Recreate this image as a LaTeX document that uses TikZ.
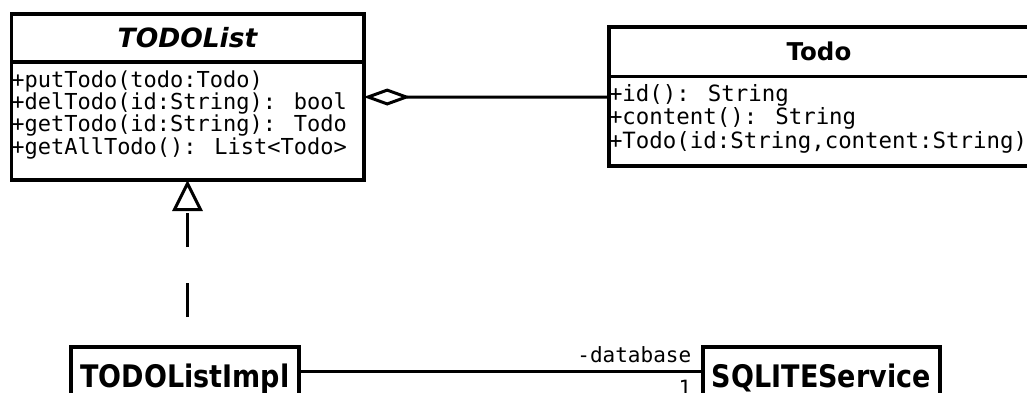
\documentclass[tikz,border=0pt]{standalone}
\usepackage{fontspec}
\setmainfont{DejaVu Sans}
\newfontfamily\umlmono{DejaVu Sans Mono}
\usepackage{graphicx}
\usepackage{tikz}
\usetikzlibrary{arrows.meta, positioning}
\lineskiplimit=-20pt
\tikzset{
  classhead/.style={rectangle, draw, line width=3.6pt, inner sep=0pt, outer sep=0pt,
    anchor=north west, font=\fontsize{26.5}{30}\selectfont\bfseries},
  classbody/.style={rectangle, draw, line width=3.6pt, inner sep=0pt, outer sep=0pt,
    anchor=north west, font=\umlmono\fontsize{22}{21}\selectfont},
  classbox/.style={classhead, minimum height=49pt, text height=32pt, text depth=0pt,
    font=\fontsize{27}{30}\selectfont\bfseries},
  role/.style={inner xsep=10pt, inner ysep=7pt, font=\umlmono\fontsize{21}{24}\selectfont},
  aggr/.style={{Diamond[open, length=47pt, width=17pt]}-, line width=3pt},
  realize/.style={-{Triangle[open, length=31pt, width=30pt]}, line width=3pt,
    dash pattern=on 34pt off 36pt, dash phase=40pt},
  assoc/.style={line width=3pt}
}
\begin{document}
\begin{tikzpicture}[x=1pt, y=-1pt]
  \useasboundingbox (0,0) rectangle (1027,392);
  \clip (0,0) rectangle (1027,392);

  % interface
  \node[classhead, minimum width=352.4pt, minimum height=48pt, font=\fontsize{26.5}{30}\selectfont\bfseries\itshape] (lhead) at (11.3,14) {TODOList};
  \node[classbody, minimum width=352.4pt] (lbody) at (lhead.south west)
    {\parbox[t][118pt][t]{352.4pt}{\rule{0pt}{25pt}+putTodo(todo:Todo)\\+delTodo(id:String): bool\\+getTodo(id:String): Todo\\+getAllTodo(): List<Todo>}};

  % entity
  \node[classhead, minimum width=420pt, minimum height=49.3pt, font=\fontsize{24.5}{28}\selectfont\bfseries] (thead) at (609,27) {Todo};
  \node[classbody, minimum width=420pt, font=\umlmono\fontsize{22.4}{23.5}\selectfont] (tbody) at (thead.south west)
    {\parbox[t][89.7pt][t]{420pt}{\rule{0pt}{24.7pt}+id(): String\\+content(): String\\+Todo(id:String,content:String)}};

  % implementation and service
  \node[classbox, minimum width=228pt] (impl) at (71,347) {\scalebox{1}[1.15]{TODOListImpl}};
  \node[classbox, minimum width=237.3pt] (svc) at (702.7,347) {\scalebox{1}[1.15]{SQLITEService}};

  \draw[aggr] ([yshift=24pt]lbody.east) -- ([yshift=24pt]tbody.west);
  \draw[realize] (lbody.south |- impl.north) -- (lbody.south);
  \draw[assoc] (impl) -- (svc)
    node[role, pos=1, anchor=south east] (rname) {-database}
    node[role, pos=1, anchor=north east] (mult) {1};
\end{tikzpicture}
\end{document}
